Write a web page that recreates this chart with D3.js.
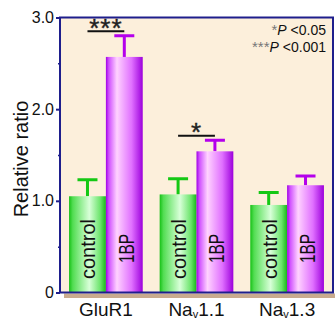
<!DOCTYPE html>
<html>
<head>
<meta charset="utf-8">
<script src="https://cdn.jsdelivr.net/npm/d3@7"></script>
<style>
  body { margin: 0; background: #fff; }
  text { font-family: "Liberation Sans", Arial, sans-serif; }
</style>
</head>
<body>
<div id="chart"></div>
<script>
// data
var groups = ["GluR1", "Nav1.1", "Nav1.3"];
var conditions = ["control", "1BP"];
var controlMean = [1.05, 1.07, 0.955];
var controlErr = [0.18, 0.17, 0.135];
var bpMean = [2.57, 1.54, 1.17];
var bpErr = [0.23, 0.12, 0.10];
var yTicks = [0, 1, 2, 3];
var yTickLabels = ["0", "1.0", "2.0", "3.0"];
var sigMarks = [{ group: "GluR1", stars: "***" }, { group: "Nav1.1", stars: "*" }];

var W = 335, H = 320;
var margin = { top: 17.5, right: 2, bottom: 27.5, left: 60 },
    width = W - margin.left - margin.right,
    height = H - margin.top - margin.bottom;

var svg = d3.select("#chart")
    .append("svg")
    .attr("width", W)
    .attr("height", H);

var defs = svg.append("defs");

var gGreen = defs.append("linearGradient").attr("id", "gGreen");
[["0%", "#16c016"], ["10%", "#52dd52"], ["55%", "#d8ffd8"], ["85%", "#6ae46a"], ["100%", "#18b818"]]
    .forEach(function(s) { gGreen.append("stop").attr("offset", s[0]).attr("stop-color", s[1]); });

var gPurple = defs.append("linearGradient").attr("id", "gPurple");
[["0%", "#a000e6"], ["8%", "#d050ff"], ["30%", "#ffd2ff"], ["70%", "#e070ff"], ["100%", "#9c00dc"]]
    .forEach(function(s) { gPurple.append("stop").attr("offset", s[0]).attr("stop-color", s[1]); });

var g = svg.append("g")
    .attr("transform", "translate(" + margin.left + "," + margin.top + ")");

// plot background
g.append("rect")
    .attr("width", width)
    .attr("height", height)
    .attr("fill", "#fcefdb");

// shadow band under the baseline
g.append("rect")
    .attr("x", 4)
    .attr("y", height + 1)
    .attr("width", width)
    .attr("height", 4.5)
    .attr("fill", "#c9ab8e");

var y = d3.scaleLinear().domain([0, 3]).range([height, 0]);

var x0 = d3.scaleBand()
    .domain(groups)
    .range([0, width])
    .paddingInner(0.187)
    .paddingOuter(0.1);

var x1 = d3.scaleBand()
    .domain(conditions)
    .range([0, x0.bandwidth()]);

var rows = groups.map(function(gr, i) {
    return [
        { group: gr, cond: "control", v: controlMean[i], e: controlErr[i] },
        { group: gr, cond: "1BP", v: bpMean[i], e: bpErr[i] }
    ];
});

var grp = g.selectAll(".grp")
    .data(rows)
    .enter().append("g")
    .attr("transform", function(d, i) { return "translate(" + x0(groups[i]) + ",0)"; });

// error bars (behind bars)
grp.selectAll(".err")
    .data(function(d) { return d; })
    .enter().append("path")
    .attr("fill", "none")
    .attr("stroke", function(d) { return d.cond == "control" ? "#14c814" : "#b400ec"; })
    .attr("stroke-width", 3)
    .attr("d", function(d) {
        var cx = x1(d.cond) + x1.bandwidth() / 2;
        return "M" + cx + "," + y(d.v) + "V" + y(d.v + d.e) +
            "M" + (cx - 10) + "," + y(d.v + d.e) + "H" + (cx + 10);
    });

grp.selectAll(".bar")
    .data(function(d) { return d; })
    .enter().append("rect")
    .attr("x", function(d) { return x1(d.cond); })
    .attr("y", function(d) { return y(d.v); })
    .attr("width", x1.bandwidth())
    .attr("height", function(d) { return y(0) - y(d.v); })
    .attr("fill", function(d) { return d.cond == "control" ? "url(#gGreen)" : "url(#gPurple)"; });

// labels inside bars
grp.selectAll(".blab")
    .data(function(d) { return d; })
    .enter().append("text")
    .attr("transform", function(d) {
        var cx = x1(d.cond) + x1.bandwidth() / 2;
        var off = d.cond == "control" ? 8 : 9.5;
        var cy = d.cond == "control" ? 249 : 248.5;
        return "translate(" + (cx + off) + "," + (cy - margin.top) + ") rotate(-90)";
    })
    .attr("text-anchor", "middle")
    .attr("font-size", function(d) { return d.cond == "control" ? 20 : 22; })
    .attr("textLength", function(d) { return d.cond == "control" ? null : 29; })
    .attr("lengthAdjust", "spacingAndGlyphs")
    .attr("fill", "#111")
    .text(function(d) { return d.cond; });

// frame
g.append("rect")
    .attr("width", width)
    .attr("height", height)
    .attr("fill", "none")
    .attr("stroke", "#1e1e8c")
    .attr("stroke-width", 2);

// y axis
var yAxis = g.append("g")
    .call(d3.axisLeft(y).tickValues(yTicks).tickSize(4)
        .tickFormat(function(d, i) { return yTickLabels[i]; }));
yAxis.select(".domain").remove();
yAxis.selectAll(".tick line").attr("stroke", "#1e1e8c").attr("stroke-width", 2);
yAxis.selectAll(".tick text")
    .attr("font-size", 16)
    .attr("font-family", "Liberation Sans, Arial, sans-serif")
    .attr("fill", "#111")
    .attr("x", -6);

var minor = g.append("g")
    .call(d3.axisLeft(y).tickValues([0.5, 1.5, 2.5]).tickSize(2).tickFormat(""));
minor.select(".domain").remove();
minor.selectAll(".tick line").attr("stroke", "#1e1e8c").attr("stroke-width", 1.5);

svg.append("text")
    .attr("transform", "translate(28," + 159 + ") rotate(-90)")
    .attr("text-anchor", "middle")
    .attr("font-size", 20)
    .attr("fill", "#111")
    .text("Relative ratio");

// x category labels
var xl = g.selectAll(".xl")
    .data(groups)
    .enter().append("text")
    .attr("x", function(d) { return x0(d) + x0.bandwidth() / 2; })
    .attr("y", height + 23)
    .attr("text-anchor", "middle")
    .attr("font-size", 19)
    .attr("fill", "#111");
xl.each(function(d) {
    var t = d3.select(this);
    if (d.indexOf("Nav") === 0) {
        t.append("tspan").text("Na");
        t.append("tspan").attr("font-size", 11).attr("dy", 2.5).text("v");
        t.append("tspan").attr("dy", -2.5).text(d.slice(3));
    } else {
        t.text(d);
    }
});

// significance marks
sigMarks.forEach(function(s) {
    var i = groups.indexOf(s.group);
    var top = Math.max(controlMean[i] + controlErr[i], bpMean[i] + bpErr[i]);
    var ly = y(top) - 4.5;
    var xa = x0(s.group) + x1.bandwidth() / 2,
        xb = x0(s.group) + x1.bandwidth() * 1.5;
    g.append("line")
        .attr("x1", xa).attr("x2", xb)
        .attr("y1", ly).attr("y2", ly)
        .attr("stroke", "#111")
        .attr("stroke-width", 2);
    g.append("text")
        .attr("x", (xa + xb) / 2)
        .attr("y", ly + 5.5)
        .attr("text-anchor", "middle")
        .attr("font-size", 26)
        .attr("letter-spacing", 1)
        .attr("fill", "#222")
        .attr("stroke", "#222")
        .attr("stroke-width", 0.4)
        .text(s.stars);
});

// legend
var leg = [["*", "0.05", 17.5], ["***", "0.001", 34]];
leg.forEach(function(l) {
    var t = g.append("text")
        .attr("x", width - 7)
        .attr("y", l[2])
        .attr("text-anchor", "end")
        .attr("font-size", 14)
        .attr("fill", "#111");
    t.append("tspan").attr("fill", "#777").attr("font-size", 15).text(l[0]);
    t.append("tspan").attr("font-style", "italic").text("P");
    t.append("tspan").text(" <" + l[1]);
});
</script>
</body>
</html>
